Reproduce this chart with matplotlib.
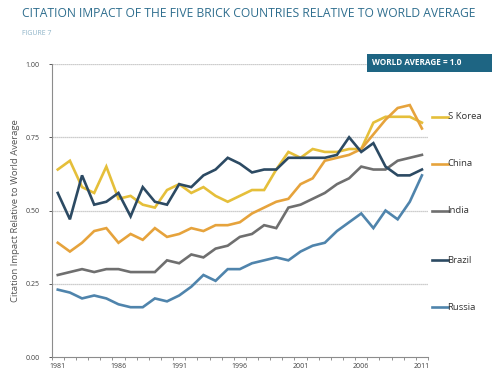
import numpy as np
import matplotlib
matplotlib.use('Agg')
import matplotlib.pyplot as plt
from matplotlib.patches import Rectangle

# %%
years = np.arange(1981, 2012)

s_korea = [0.64, 0.67, 0.58, 0.56, 0.65, 0.54, 0.55, 0.52, 0.51, 0.57,
           0.59, 0.56, 0.58, 0.55, 0.53, 0.55, 0.57, 0.57, 0.64, 0.70,
           0.68, 0.71, 0.70, 0.70, 0.71, 0.71, 0.80, 0.82, 0.82, 0.82, 0.80]
china = [0.39, 0.36, 0.39, 0.43, 0.44, 0.39, 0.42, 0.40, 0.44, 0.41,
         0.42, 0.44, 0.43, 0.45, 0.45, 0.46, 0.49, 0.51, 0.53, 0.54,
         0.59, 0.61, 0.67, 0.68, 0.69, 0.71, 0.76, 0.81, 0.85, 0.86, 0.78]
india = [0.28, 0.29, 0.30, 0.29, 0.30, 0.30, 0.29, 0.29, 0.29, 0.33,
         0.32, 0.35, 0.34, 0.37, 0.38, 0.41, 0.42, 0.45, 0.44, 0.51,
         0.52, 0.54, 0.56, 0.59, 0.61, 0.65, 0.64, 0.64, 0.67, 0.68, 0.69]
brazil = [0.56, 0.47, 0.62, 0.52, 0.53, 0.56, 0.48, 0.58, 0.53, 0.52,
          0.59, 0.58, 0.62, 0.64, 0.68, 0.66, 0.63, 0.64, 0.64, 0.68,
          0.68, 0.68, 0.68, 0.69, 0.75, 0.70, 0.73, 0.65, 0.62, 0.62, 0.64]
russia = [0.23, 0.22, 0.20, 0.21, 0.20, 0.18, 0.17, 0.17, 0.20, 0.19,
          0.21, 0.24, 0.28, 0.26, 0.30, 0.30, 0.32, 0.33, 0.34, 0.33,
          0.36, 0.38, 0.39, 0.43, 0.46, 0.49, 0.44, 0.50, 0.47, 0.53, 0.62]

names = ['S Korea', 'China', 'India', 'Brazil', 'Russia']
series = [s_korea, china, india, brazil, russia]
colors = ['#E5BF3A', '#E6A33C', '#6F6F6F', '#2C4A63', '#4F84AC']
legend_y = [0.82, 0.66, 0.50, 0.33, 0.17]

yticks = [0.0, 0.25, 0.5, 0.75, 1.0]
xlabels = [1981, 1986, 1991, 1996, 2001, 2006, 2011]

# %%
plt.rcParams['font.family'] = ['Open Sans', 'DejaVu Sans']
fig = plt.figure(figsize=(5.0, 3.79), dpi=100)
ax = fig.add_axes([0.1034, 0.058, 0.7526, 0.773])

for ys in yticks[1:]:
    ax.axhline(ys, color='#BDBDBD', lw=0.9, ls=(0, (1, 0.6)), zorder=1)

for name, vals, c in zip(names, series, colors):
    ax.plot(years, vals, color=c, lw=1.9, solid_joinstyle='miter', zorder=3)

ax.set_xlim(1980.5, 2011.5)
ax.set_ylim(0, 1.0)
ax.set_yticks(yticks)
ax.set_yticklabels(['%.2f' % v for v in yticks])
ax.set_xticks(xlabels)
ax.set_xticklabels([str(v) for v in xlabels])
ax.set_xticks(np.arange(1980.5, 2012, 1.0), minor=True)
ax.tick_params(axis='x', which='major', length=0, labelsize=5, colors='#404040', pad=4)
ax.tick_params(axis='x', which='minor', length=2.5, color='#808080', width=0.6)
ax.tick_params(axis='y', length=2.5, labelsize=5, colors='#404040', width=0.6, pad=6)
for sp in ['top', 'right']:
    ax.spines[sp].set_visible(False)
for sp in ['left', 'bottom']:
    ax.spines[sp].set_color('#8C8C8C')
    ax.spines[sp].set_linewidth(0.8)

ax.set_ylabel('Citation Impact Relative to World Average', fontsize=6.8, color='#555555', labelpad=4)

# legend on the right
for name, c, ly in zip(names, colors, legend_y):
    ax.plot([1.011, 1.052], [ly, ly], transform=ax.transAxes, color=c, lw=1.9, clip_on=False)
    ax.text(1.052, ly, name, transform=ax.transAxes, fontsize=6.8, color='#333333', va='center', ha='left')

# title and box
fig.text(0.044, 0.965, 'CITATION IMPACT OF THE FIVE BRICK COUNTRIES RELATIVE TO WORLD AVERAGE',
         fontsize=8.75, color='#2F6E8E', va='center', ha='left')
fig.text(0.044, 0.912, 'FIGURE 7', fontsize=5, color='#8FB4C8', va='center', ha='left')
fig.patches.append(Rectangle((0.734, 0.810), 0.250, 0.0475, transform=fig.transFigure,
                             facecolor='#1E6583', edgecolor='none'))
fig.text(0.745, 0.834, 'WORLD AVERAGE = 1.0', fontsize=5.9, color='white', fontweight='bold',
         va='center', ha='left')

plt.savefig('out.png', dpi=100)
